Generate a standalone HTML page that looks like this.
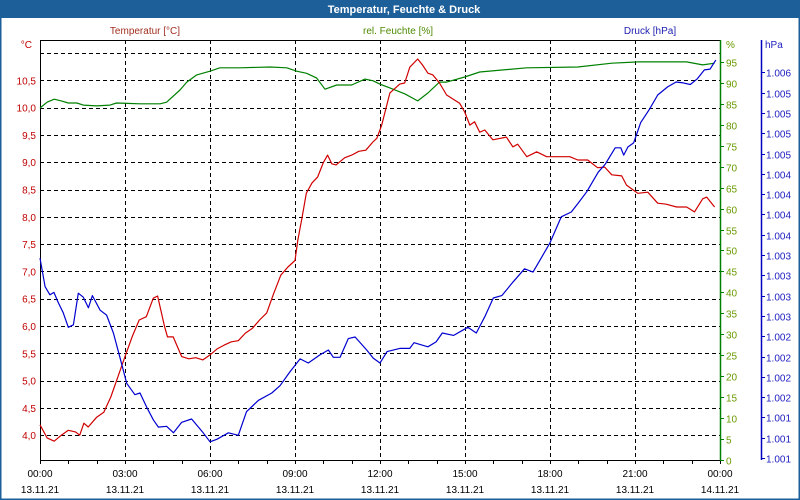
<!DOCTYPE html>
<html><head><meta charset="utf-8"><style>
html,body{margin:0;padding:0;background:#fff}
#wrap{position:relative;width:800px;height:500px;overflow:hidden;font-family:"Liberation Sans",sans-serif}
svg{position:absolute;left:0;top:0}
</style></head><body>
<div id="wrap">
<svg id="c" width="800" height="500"></svg>
</div>
<script>
// ---- data (hours since 13.11.21 00:00) ----
const tempHours=[0,0.25,0.5,0.75,1,1.25,1.4,1.55,1.7,2,2.25,2.5,2.75,3,3.25,3.5,3.75,4,4.15,4.4,4.5,4.7,5,5.25,5.5,5.75,6,6.25,6.5,6.75,7,7.25,7.5,7.75,8,8.25,8.5,8.75,9,9.1,9.25,9.4,9.6,9.8,10,10.15,10.3,10.45,10.75,11,11.25,11.5,11.75,11.89,12.06,12.35,12.7,12.87,13.05,13.33,13.5,13.69,13.86,14.1,14.35,14.81,14.99,15.17,15.34,15.52,15.7,15.98,16.46,16.69,16.86,17.18,17.53,17.88,18.34,18.7,18.98,19.33,19.68,19.93,20.18,20.53,20.7,21.1,21.45,21.8,22.1,22.47,22.82,23.1,23.39,23.53,23.81];
const tempValues=[4.19,3.95,3.89,4.0,4.09,4.06,4.0,4.22,4.15,4.33,4.42,4.70,5.07,5.44,5.80,6.11,6.17,6.51,6.55,5.98,5.80,5.80,5.44,5.40,5.42,5.38,5.47,5.58,5.65,5.71,5.73,5.87,5.96,6.11,6.24,6.60,6.93,7.08,7.2,7.57,7.99,8.43,8.62,8.73,8.99,9.13,8.97,8.95,9.08,9.13,9.2,9.22,9.37,9.44,9.68,10.27,10.43,10.45,10.74,10.89,10.78,10.63,10.6,10.45,10.23,10.08,9.92,9.68,9.74,9.55,9.59,9.41,9.46,9.28,9.33,9.1,9.19,9.1,9.1,9.1,9.04,9.04,8.9,8.91,8.77,8.75,8.58,8.43,8.45,8.25,8.23,8.18,8.18,8.09,8.33,8.36,8.18];
const humHours=[0,0.25,0.5,0.75,1,1.3,1.53,2,2.47,2.7,3.53,4.24,4.47,4.94,5.18,5.53,6,6.35,7.06,8.12,8.71,9.06,9.41,9.76,10.06,10.47,11,11.47,11.76,12,12.35,12.87,13.33,13.69,14.1,14.35,14.99,15.52,17.18,18.98,20.18,21.1,22.82,23.39,23.81];
const humValues=[84.0,85.4,86.1,85.7,85.2,85.2,84.7,84.5,84.7,85.2,85.0,85.0,85.4,88.3,90.2,91.9,92.8,93.6,93.6,93.8,93.6,92.8,92.3,91.2,88.5,89.5,89.5,90.9,90.5,89.7,88.8,87.4,85.7,87.6,90.2,90.2,91.4,92.6,93.6,93.8,94.7,95.0,95.0,94.3,94.7];
const presHours=[0,0.18,0.35,0.49,0.65,0.82,1,1.18,1.35,1.53,1.71,1.85,2.12,2.35,2.59,2.82,3.06,3.35,3.53,3.76,4,4.18,4.47,4.71,5,5.35,5.76,6,6.24,6.65,7,7.29,7.71,8.18,8.47,8.82,9.18,9.47,9.88,10.18,10.35,10.59,10.88,11.12,11.53,11.76,12,12.25,12.7,13.05,13.2,13.69,13.98,14.2,14.6,14.95,15.1,15.4,15.7,16.0,16.3,16.7,17.1,17.4,17.65,18.0,18.4,18.75,19.0,19.3,19.7,19.95,20.3,20.5,20.6,20.75,20.95,21.2,21.5,21.8,22.15,22.45,22.7,22.95,23.2,23.45,23.65,23.85];
const presValues=[1003.46,1003.11,1003.01,1003.04,1002.91,1002.79,1002.61,1002.64,1003.03,1002.98,1002.85,1003.0,1002.82,1002.76,1002.54,1002.24,1001.92,1001.78,1001.8,1001.63,1001.47,1001.38,1001.39,1001.31,1001.44,1001.48,1001.31,1001.2,1001.23,1001.31,1001.28,1001.57,1001.71,1001.8,1001.89,1002.06,1002.22,1002.17,1002.27,1002.33,1002.24,1002.24,1002.47,1002.49,1002.33,1002.23,1002.17,1002.31,1002.35,1002.35,1002.42,1002.37,1002.43,1002.54,1002.51,1002.58,1002.61,1002.54,1002.74,1002.97,1003.0,1003.17,1003.33,1003.29,1003.44,1003.65,1003.97,1004.03,1004.14,1004.28,1004.52,1004.62,1004.82,1004.82,1004.73,1004.83,1004.88,1005.13,1005.29,1005.47,1005.57,1005.63,1005.62,1005.6,1005.67,1005.78,1005.79,1005.9];
const tempTicks=[4.0,4.5,5.0,5.5,6.0,6.5,7.0,7.5,8.0,8.5,9.0,9.5,10.0,10.5];
const tempTickLabels=["4,0","4,5","5,0","5,5","6,0","6,5","7,0","7,5","8,0","8,5","9,0","9,5","10,0","10,5"];
const humTicks=[0,5,10,15,20,25,30,35,40,45,50,55,60,65,70,75,80,85,90,95];
const presTicks=[1001,1001.25,1001.5,1001.75,1002,1002.25,1002.5,1002.75,1003,1003.25,1003.5,1003.75,1004,1004.25,1004.5,1004.75,1005,1005.25,1005.5,1005.75];
const presTickLabels=["1.001","1.001","1.001","1.002","1.002","1.002","1.002","1.003","1.003","1.003","1.003","1.004","1.004","1.004","1.004","1.005","1.005","1.005","1.005","1.006"];
const timeTicks=[0,3,6,9,12,15,18,21,24];
const timeLabels=["00:00","03:00","06:00","09:00","12:00","15:00","18:00","21:00","00:00"];
const dateLabels=["13.11.21","13.11.21","13.11.21","13.11.21","13.11.21","13.11.21","13.11.21","13.11.21","14.11.21"];

// ---- scales ----
const X0=40,X1=720,Y0=40,Y1=460;
const xs=h=>X0+(X1-X0)*h/24;
const yT=t=>53+(11.0-t)*54.6;
const yH=v=>460-v*4.19;
const yP=p=>458-(p-1001)*81.2;

const svg=document.getElementById('c');
const NS='http://www.w3.org/2000/svg';
function mk(tag,attrs,parent){const e=document.createElementNS(NS,tag);for(const k in attrs)e.setAttribute(k,attrs[k]);(parent||svg).appendChild(e);return e;}
function txt(s,x,y,fill,anchor,size,weight){const e=mk('text',{x:x,y:y,fill:fill,'text-anchor':anchor||'start','font-size':size||11,'font-family':'Liberation Sans, sans-serif','font-weight':weight||'normal'});e.textContent=s;return e;}

// frame
let e=mk('rect',{x:0,y:0,width:800,height:500,fill:'#fff',stroke:'#1d5f99','stroke-width':3});


e=mk('rect',{x:0,y:0,width:800,height:18,fill:'#1d5f99'});


e=txt('Temperatur, Feuchte & Druck',404,13,'#fff','middle',11,'bold');


e=txt('Temperatur [°C]',145,34,'#a03020','middle',10);


e=txt('rel. Feuchte [%]',398,34,'#4c8a00','middle',10);


e=txt('Druck [hPa]',650,34,'#2020b0','middle',10);



// grid
const grid=mk('g',{stroke:'#000','stroke-width':1,'stroke-dasharray':'4,3'});


[11.0].concat(tempTicks).forEach(t=>{const y=Math.round(yT(t))+0.5;mk('line',{x1:X0,x2:X1,y1:y,y2:y},grid);});
timeTicks.slice(1,8).forEach(h=>{const x=Math.round(xs(h))+0.5;mk('line',{x1:x,x2:x,y1:Y0,y2:Y1},grid);});

// axes
e=mk('line',{x1:X0,x2:X1,y1:Y0+0.5,y2:Y0+0.5,stroke:'#000'});


e=mk('line',{x1:X0+0.5,x2:X0+0.5,y1:Y0,y2:Y1,stroke:'#000'});


e=mk('line',{x1:X0,x2:X1,y1:Y1+0.5,y2:Y1+0.5,stroke:'#000'});


for(let h=0;h<=24;h++){const x=Math.round(xs(h))+0.5;mk('line',{x1:x,x2:x,y1:Y1,y2:Y1+4,stroke:'#000'});}
timeTicks.forEach((h,i)=>{
  const x=xs(h);
  let t=txt(timeLabels[i],x,477,'#000','middle',10);
  
  
  t=txt(dateLabels[i],x,493,'#000','middle',10);
  
  
});
e=txt('°C',32,48,'#c00000','end',10);


tempTicks.forEach((t,i)=>{const l=txt(tempTickLabels[i],36,yT(t)+4,'#c00000','end',10);
  
  });

// humidity axis
e=mk('line',{x1:720.5,x2:720.5,y1:Y0,y2:Y1,stroke:'#008000','stroke-width':1.5});


humTicks.forEach(v=>{const y=Math.round(yH(v))+0.5;mk('line',{x1:720,x2:724,y1:y,y2:y,stroke:'#008000'});
  const l=txt(String(v),726,y+4,'#6a9a00','start',10);
  
  });
e=txt('%',726,48,'#6a9a00','start',10);



// pressure axis
e=mk('line',{x1:761.5,x2:761.5,y1:Y0,y2:Y1,stroke:'#0000c0','stroke-width':1.5});


presTicks.forEach((p,i)=>{const y=Math.round(yP(p))+0.5;mk('line',{x1:761,x2:765,y1:y,y2:y,stroke:'#0000c0'});
  const l=txt(presTickLabels[i],766,y+4,'#2020c0','start',10);
  
  });
e=txt('hPa',765,48,'#2020c0','start',10);



// series
function line(hs,vs,yf,col){return mk('polyline',{points:hs.map((h,i)=>xs(h).toFixed(1)+','+yf(vs[i]).toFixed(1)).join(' '),fill:'none',stroke:col,'stroke-width':1.2,'stroke-linejoin':'round'});}
e=line(humHours,humValues,yH,'#008000');


e=line(tempHours,tempValues,yT,'#d00000');


e=line(presHours,presValues,yP,'#0000d0');


</script>
</body></html>
